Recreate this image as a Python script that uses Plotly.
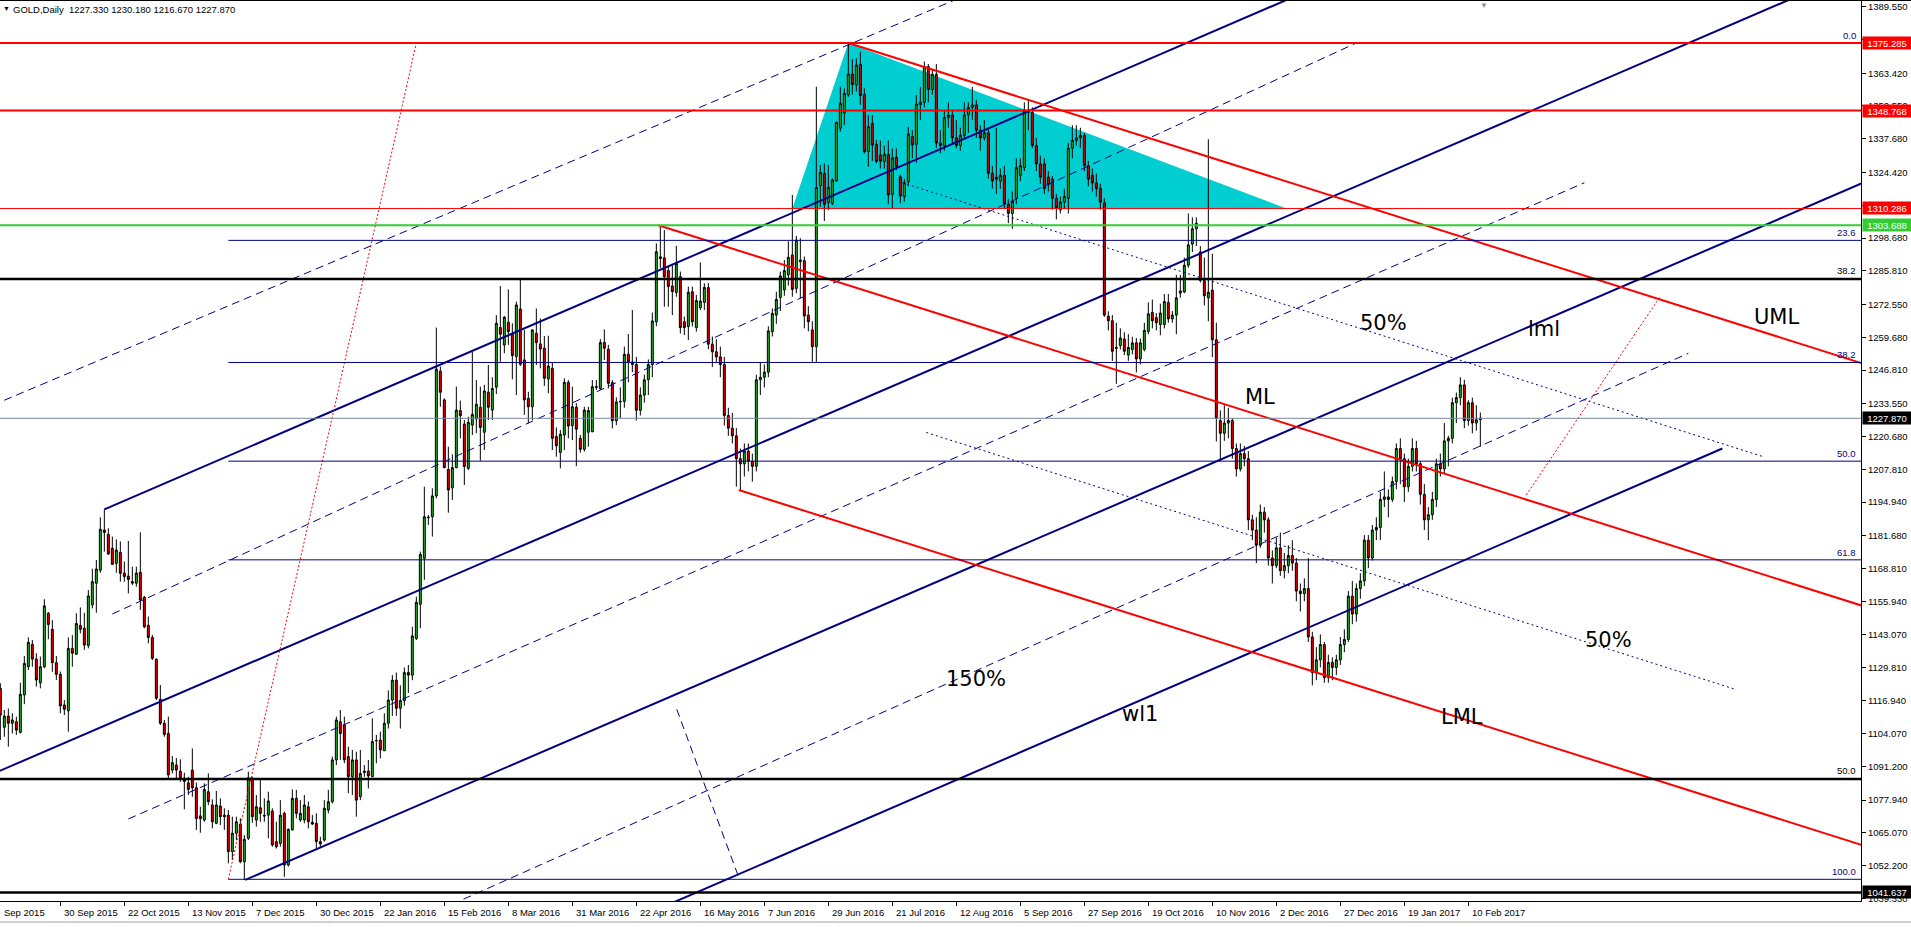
import plotly.graph_objects as go

# ---------------- DATA ----------------
bar_open = [
1121.8,1106.5,1110.9,1108.1,1108.7,1104.5,1119.2,1130.3,1139.1,1133.3,
1124.0,1130.3,1151.3,1145.0,1131.9,1127.3,1115.3,1113.0,1137.5,1135.2,
1146.5,1145.4,1138.6,1154.6,1163.1,1168.2,1184.0,1182.3,1176.8,1170.9,
1175.2,1167.1,1165.9,1163.1,1163.1,1167.4,1157.6,1146.6,1141.8,1133.2,
1117.5,1108.1,1104.1,1089.7,1091.7,1089.3,1086.5,1084.7,1089.7,1082.8,
1071.7,1070.1,1081.2,1076.0,1068.8,1075.6,1072.0,1072.0,1057.7,1064.9,
1068.4,1053.7,1062.9,1086.5,1070.1,1074.9,1071.9,1072.0,1073.6,1061.6,
1060.9,1072.7,1052.4,1066.2,1078.6,1070.1,1070.1,1075.3,1069.2,1068.8,
1061.6,1062.2,1074.0,1077.3,1093.7,1108.7,1107.4,1095.0,1087.1,1093.7,
1079.3,1089.3,1089.3,1087.1,1101.2,1101.5,1097.3,1108.1,1117.2,1125.0,
1114.0,1117.0,1128.0,1127.0,1141.4,1154.8,1172.9,1188.8,1189.2,1197.4,
1246.4,1235.1,1207.8,1200.6,1208.5,1230.9,1225.6,1208.2,1225.2,1227.6,
1232.2,1222.4,1238.1,1231.1,1240.1,1263.5,1256.7,1265.6,1261.0,1252.1,
1270.8,1250.8,1235.7,1232.4,1261.3,1257.1,1255.4,1243.3,1247.5,1220.7,
1214.5,1221.3,1242.0,1225.0,1232.2,1220.0,1215.7,1222.4,1222.6,1240.0,
1239.6,1257.7,1255.0,1241.9,1226.9,1234.3,1234.5,1253.0,1250.0,1249.0,
1231.0,1237.0,1243.0,1249.0,1265.8,1291.3,1290.9,1285.9,1279.8,1277.3,
1283.5,1265.8,1263.9,1277.6,1263.5,1271.3,1273.4,1279.2,1257.0,1254.0,
1252.0,1249.0,1229.0,1224.0,1221.0,1212.0,1210.0,1215.0,1211.0,1209.0,
1243.0,1244.0,1246.0,1261.9,1268.4,1275.3,1278.3,1284.2,1292.0,1278.9,
1289.4,1289.8,1268.4,1262.6,1256.0,1319.2,1324.1,1312.6,1312.3,1321.1,
1341.8,1347.7,1354.9,1363.1,1358.8,1366.9,1355.1,1332.6,1343.7,1335.5,
1331.3,1328.7,1331.6,1315.9,1330.5,1322.7,1314.9,1320.8,1338.5,1335.5,
1351.0,1352.0,1366.0,1357.0,1363.0,1336.0,1335.0,1346.0,1347.0,1338.0,
1335.0,1339.0,1347.0,1350.0,1351.0,1341.0,1338.0,1340.0,1324.1,1322.6,
1321.1,1323.3,1312.0,1308.3,1314.3,1323.3,1326.3,1349.0,1348.0,1335.0,
1327.8,1327.8,1322.6,1321.8,1314.3,1309.8,1312.8,1314.3,1334.0,1337.0,
1338.0,1339.0,1327.1,1323.3,1320.3,1318.1,1312.5,1268.0,1266.2,1255.7,
1256.4,1259.0,1252.7,1254.9,1257.5,1251.2,1254.9,1262.0,1269.5,1267.4,
1264.7,1264.7,1273.4,1266.9,1268.4,1277.0,1277.5,1288.0,1296.3,1302.3,
1293.2,1282.0,1275.2,1278.2,1258.7,1227.0,1222.0,1226.0,1227.0,1216.0,
1208.0,1214.0,1212.0,1188.0,1184.0,1178.0,1191.0,1188.0,1173.0,1170.0,
1177.0,1168.0,1170.0,1174.0,1171.0,1160.0,1159.0,1161.0,1142.0,1128.0,
1133.0,1139.0,1126.0,1132.0,1130.0,1133.0,1139.0,1141.0,1158.0,1151.0,
1161.0,1164.0,1180.0,1173.0,1184.0,1185.0,1196.0,1197.0,1196.0,1203.0,
1216.0,1212.0,1201.0,1209.0,1216.0,1210.0,1198.0,1188.0,1190.0,1196.0,
1210.0,1208.0,1219.0,1220.0,1234.0,1236.0,1241.0,1227.0,1234.0,1226.0,
1227.33]

bar_high = [
1123.8,1113.3,1113.9,1112.0,1110.7,1124.0,1134.5,1141.8,1140.8,1135.6,
1134.3,1156.8,1151.8,1148.6,1134.5,1128.4,1117.2,1141.8,1142.7,1151.3,
1153.6,1151.5,1160.4,1168.8,1172.2,1189.0,1192.1,1184.7,1181.4,1180.3,
1179.5,1171.6,1179.7,1169.6,1169.6,1183.1,1158.1,1150.0,1142.8,1133.6,
1123.1,1109.4,1110.7,1095.2,1094.4,1093.9,1088.7,1087.1,1098.2,1084.8,
1075.3,1084.5,1088.4,1078.2,1081.5,1078.6,1074.7,1074.0,1071.4,1071.4,
1070.8,1064.2,1089.1,1087.1,1079.9,1085.8,1078.6,1081.2,1074.7,1069.4,
1077.9,1073.4,1066.8,1082.1,1081.9,1077.9,1079.9,1077.3,1072.1,1072.7,
1063.5,1077.9,1081.9,1095.0,1110.7,1113.3,1110.7,1098.9,1097.6,1096.9,
1097.6,1091.7,1093.7,1110.0,1103.5,1104.8,1112.0,1121.0,1127.0,1128.0,
1123.0,1130.0,1131.0,1146.0,1157.8,1175.5,1201.0,1189.9,1200.4,1263.5,
1248.2,1235.7,1216.7,1213.7,1240.3,1234.8,1227.2,1228.5,1254.0,1242.9,
1240.3,1241.0,1248.8,1244.0,1268.4,1279.8,1268.1,1278.5,1265.2,1273.7,
1282.4,1262.6,1238.3,1262.8,1271.0,1267.1,1260.2,1260.3,1249.7,1224.3,
1223.3,1243.6,1242.9,1240.3,1233.8,1221.3,1232.4,1232.4,1242.9,1242.9,
1259.0,1262.8,1256.7,1242.9,1236.1,1240.0,1256.0,1261.0,1270.4,1252.0,
1240.0,1245.0,1251.0,1269.4,1296.6,1303.7,1301.8,1287.4,1288.1,1295.6,
1285.5,1267.8,1279.6,1279.6,1276.3,1289.1,1280.9,1281.0,1260.0,1259.0,
1256.0,1252.0,1232.0,1230.0,1224.0,1216.0,1218.0,1218.0,1214.0,1245.0,
1250.0,1249.0,1264.0,1271.0,1277.6,1285.5,1290.0,1297.4,1315.6,1299.5,
1298.6,1291.4,1271.9,1266.0,1358.1,1327.4,1328.0,1327.4,1322.1,1344.4,
1358.1,1357.5,1375.285,1369.0,1369.3,1372.0,1357.5,1347.0,1347.0,1337.2,
1337.0,1335.0,1337.0,1333.9,1333.9,1323.5,1322.0,1342.4,1341.0,1354.9,
1358.0,1368.0,1367.0,1365.0,1367.0,1341.0,1349.0,1352.0,1349.0,1345.0,
1342.0,1352.0,1352.0,1358.0,1353.0,1343.0,1345.0,1342.0,1327.0,1342.0,
1326.0,1327.0,1314.0,1317.0,1330.0,1330.0,1352.0,1353.0,1350.0,1338.0,
1331.0,1330.0,1325.0,1323.0,1316.0,1315.0,1318.0,1336.0,1343.0,1343.0,
1342.0,1340.0,1329.0,1326.0,1324.0,1320.0,1314.3,1269.9,1268.4,1265.4,
1263.2,1261.7,1260.9,1259.9,1259.4,1259.2,1265.4,1273.4,1274.5,1269.2,
1272.9,1276.7,1276.7,1270.0,1284.2,1284.2,1291.0,1308.3,1306.8,1306.8,
1295.5,1291.0,1337.5,1292.5,1265.4,1231.0,1233.0,1232.0,1228.0,1218.0,
1218.0,1217.0,1215.0,1190.0,1189.0,1194.0,1193.0,1189.0,1176.0,1181.0,
1183.0,1175.0,1178.0,1180.0,1173.0,1163.0,1165.0,1173.0,1144.0,1138.0,
1143.0,1140.0,1135.0,1134.0,1135.0,1142.0,1145.0,1160.0,1164.0,1163.0,
1167.0,1182.0,1182.0,1186.0,1189.0,1199.0,1207.0,1200.0,1205.0,1218.0,
1220.0,1214.0,1212.0,1220.0,1219.0,1211.0,1202.0,1193.0,1199.0,1212.0,
1214.0,1226.0,1221.0,1236.0,1238.0,1244.0,1243.0,1235.0,1236.0,1233.0,
1230.18]

bar_low = [
1101.5,1102.8,1098.9,1104.1,1103.5,1104.1,1115.6,1129.0,1130.3,1122.5,
1121.8,1129.7,1141.1,1128.3,1125.1,1112.0,1111.3,1104.8,1130.3,1135.0,
1143.4,1136.9,1137.5,1153.2,1151.5,1167.2,1175.5,1174.2,1170.2,1167.2,
1163.7,1163.7,1159.1,1162.4,1161.7,1152.6,1145.4,1139.5,1132.9,1117.2,
1107.4,1102.8,1085.8,1088.4,1085.8,1085.1,1074.3,1079.9,1079.2,1066.2,
1065.1,1069.4,1075.9,1066.8,1068.5,1068.1,1066.2,1053.1,1054.4,1062.2,
1053.1,1046.5,1062.2,1069.0,1067.5,1069.4,1069.4,1062.9,1059.6,1058.9,
1059.6,1047.8,1051.8,1066.0,1070.7,1069.4,1068.8,1066.8,1068.1,1058.9,
1059.6,1061.6,1072.7,1076.6,1091.7,1093.7,1092.4,1080.6,1079.9,1071.4,
1077.9,1087.1,1082.5,1087.1,1092.4,1094.3,1097.3,1106.0,1111.0,1111.0,
1106.0,1115.0,1120.0,1125.0,1140.8,1145.4,1164.4,1186.0,1181.4,1196.4,
1232.4,1208.2,1190.8,1195.8,1208.2,1220.0,1201.7,1207.6,1221.3,1222.0,
1211.2,1215.4,1227.2,1227.2,1237.4,1250.1,1253.4,1256.7,1243.2,1237.0,
1248.4,1229.2,1225.9,1227.2,1248.8,1247.5,1240.6,1237.7,1215.4,1212.8,
1208.2,1215.4,1220.0,1219.3,1209.1,1214.4,1214.8,1216.7,1222.4,1239.0,
1239.0,1250.8,1239.6,1223.9,1225.2,1228.0,1232.0,1242.0,1246.0,1227.0,
1229.0,1234.0,1237.0,1244.0,1264.0,1286.8,1271.7,1271.7,1268.4,1275.6,
1261.2,1260.6,1258.6,1263.9,1261.9,1270.4,1270.4,1255.0,1248.0,1250.0,
1244.0,1225.0,1221.0,1218.0,1201.0,1199.7,1205.0,1207.0,1203.0,1207.0,
1237.0,1240.0,1244.0,1260.0,1265.0,1270.0,1276.0,1280.0,1275.6,1277.0,
1275.0,1263.2,1262.0,1250.0,1250.0,1311.0,1305.4,1309.7,1311.6,1320.9,
1340.5,1343.1,1354.2,1355.0,1356.2,1351.0,1331.9,1326.7,1329.0,1328.0,
1326.0,1326.0,1312.0,1310.4,1325.4,1312.3,1313.0,1319.0,1330.0,1328.3,
1345.0,1350.0,1352.0,1355.0,1334.0,1332.0,1333.0,1342.0,1336.0,1334.0,
1333.0,1338.0,1340.0,1345.0,1338.0,1333.0,1337.0,1322.0,1318.1,1316.0,
1318.0,1310.5,1304.5,1302.3,1312.0,1321.0,1325.0,1341.0,1334.0,1325.0,
1320.0,1316.0,1317.0,1309.8,1306.0,1308.3,1310.0,1308.3,1330.0,1335.0,
1334.0,1325.0,1319.0,1317.0,1315.0,1309.8,1267.7,1262.4,1250.4,1241.4,
1254.9,1252.7,1250.4,1253.0,1245.9,1249.0,1254.2,1260.9,1263.2,1262.4,
1260.5,1263.2,1265.4,1265.4,1260.9,1275.2,1277.0,1287.0,1293.2,1295.5,
1281.2,1272.2,1266.0,1251.9,1218.8,1211.0,1219.0,1220.0,1212.0,1205.0,
1207.0,1209.0,1184.0,1180.0,1171.0,1177.0,1183.0,1170.0,1163.0,1169.0,
1166.0,1165.0,1167.0,1168.0,1156.0,1152.0,1156.0,1140.0,1123.0,1125.0,
1130.0,1124.0,1124.0,1125.0,1127.0,1131.0,1136.0,1140.0,1147.0,1148.0,
1157.0,1162.0,1169.0,1172.0,1180.0,1180.0,1193.0,1189.0,1195.0,1200.0,
1202.0,1195.0,1199.0,1207.0,1207.0,1194.0,1184.0,1180.0,1188.0,1193.0,
1205.0,1206.0,1209.0,1218.0,1226.0,1233.0,1224.0,1225.0,1222.0,1223.0,
1216.67]

bar_close = [
1111.3,1110.9,1108.1,1109.4,1105.4,1119.5,1131.6,1139.9,1133.3,1125.1,
1130.3,1154.2,1146.9,1131.9,1127.3,1114.9,1113.6,1137.5,1135.6,1147.3,
1145.0,1138.8,1158.1,1163.7,1168.7,1184.3,1183.0,1174.6,1170.5,1176.1,
1167.0,1165.7,1164.6,1163.7,1167.1,1156.5,1146.0,1141.8,1133.6,1117.9,
1108.1,1103.7,1087.8,1092.6,1089.7,1086.5,1085.2,1082.1,1082.8,1070.7,
1070.6,1082.1,1077.3,1069.4,1076.0,1071.4,1071.4,1057.7,1064.9,1069.4,
1053.7,1062.5,1086.7,1071.4,1075.3,1072.7,1071.7,1077.6,1060.3,1059.6,
1072.0,1052.4,1066.4,1078.6,1072.7,1072.7,1076.0,1069.4,1068.5,1061.6,
1060.7,1074.7,1077.3,1093.7,1109.4,1104.1,1093.7,1087.1,1093.7,1077.9,
1088.4,1088.8,1087.4,1100.9,1101.3,1097.6,1108.1,1117.2,1125.0,1114.0,
1117.0,1128.0,1127.0,1142.4,1155.6,1174.4,1189.2,1189.0,1197.4,1247.2,
1238.1,1208.5,1199.7,1208.5,1231.1,1228.9,1208.9,1226.3,1229.4,1233.4,
1224.3,1238.6,1232.2,1239.6,1265.2,1260.9,1267.6,1261.9,1252.5,1272.4,
1249.1,1235.1,1232.4,1262.6,1257.6,1255.1,1243.6,1248.4,1220.0,1217.1,
1221.6,1242.0,1224.8,1232.4,1223.6,1215.7,1231.1,1230.9,1240.3,1240.3,
1257.6,1255.4,1241.6,1226.9,1234.3,1234.5,1253.0,1250.0,1249.0,1231.0,
1237.0,1243.0,1249.0,1266.1,1293.3,1290.6,1283.5,1279.6,1277.6,1288.7,
1263.5,1263.5,1277.4,1265.8,1274.1,1273.9,1279.3,1257.0,1254.0,1252.0,
1249.0,1229.0,1224.0,1221.0,1212.0,1210.0,1215.0,1211.0,1209.0,1243.0,
1244.0,1246.0,1262.2,1269.1,1274.6,1283.8,1285.9,1291.1,1278.5,1297.9,
1290.0,1268.1,1265.8,1256.0,1318.5,1324.5,1311.9,1318.6,1321.5,1344.1,
1351.6,1355.5,1363.1,1359.0,1366.6,1354.6,1332.6,1342.4,1335.2,1328.7,
1328.9,1331.6,1315.6,1330.2,1326.7,1315.2,1320.4,1339.5,1335.2,1351.3,
1352.0,1366.0,1357.0,1363.0,1336.0,1335.0,1346.0,1347.0,1338.0,1335.0,
1339.0,1347.0,1350.0,1351.0,1341.0,1338.0,1340.0,1324.1,1321.1,1321.8,
1323.3,1312.0,1308.3,1313.1,1326.3,1327.1,1349.0,1348.0,1335.0,1327.8,
1322.6,1318.1,1319.6,1314.3,1310.5,1312.8,1315.0,1334.0,1337.0,1338.0,
1339.0,1327.1,1321.8,1320.3,1318.1,1312.8,1268.4,1266.2,1254.2,1255.4,
1259.4,1254.2,1255.7,1257.5,1251.2,1257.5,1262.4,1268.9,1266.2,1265.4,
1269.2,1273.7,1266.9,1268.4,1275.2,1277.9,1288.0,1296.0,1302.3,1304.5,
1282.0,1276.0,1277.4,1258.7,1227.9,1222.0,1226.0,1227.0,1216.0,1208.0,
1214.0,1212.0,1188.0,1184.0,1178.0,1191.0,1188.0,1173.0,1170.0,1177.0,
1168.0,1170.0,1174.0,1171.0,1160.0,1159.0,1161.0,1142.0,1128.0,1133.0,
1139.0,1126.0,1132.0,1130.0,1133.0,1139.0,1141.0,1158.0,1151.0,1161.0,
1164.0,1180.0,1173.0,1184.0,1185.0,1196.0,1197.0,1196.0,1203.0,1216.0,
1212.0,1201.0,1209.0,1216.0,1210.0,1198.0,1188.0,1190.0,1196.0,1210.0,
1208.0,1219.0,1220.0,1234.0,1236.0,1241.0,1227.0,1234.0,1226.0,1227.3,
1227.87]

assert len(bar_open) == len(bar_high) == len(bar_low) == len(bar_close)
bar_index = list(range(len(bar_open)))

# time axis labels (bar index of each label)
date_tick_bars = [15, 31, 47, 63, 79, 95, 111, 127, 143, 159, 175, 191, 207,
                  223, 239, 255, 271, 287, 303, 319, 335, 351, 367]
date_tick_text = ["30 Sep 2015", "22 Oct 2015", "13 Nov 2015", "7 Dec 2015",
                  "30 Dec 2015", "22 Jan 2016", "15 Feb 2016", "8 Mar 2016",
                  "31 Mar 2016", "22 Apr 2016", "16 May 2016", "7 Jun 2016",
                  "29 Jun 2016", "21 Jul 2016", "12 Aug 2016", "5 Sep 2016",
                  "27 Sep 2016", "19 Oct 2016", "10 Nov 2016", "2 Dec 2016",
                  "27 Dec 2016", "19 Jan 2017", "10 Feb 2017"]

price_ticks = [1389.55, 1376.68, 1363.42, 1350.55, 1337.68, 1324.42, 1311.55,
               1298.68, 1285.81, 1272.55, 1259.68, 1246.81, 1233.55, 1220.68,
               1207.81, 1194.94, 1181.68, 1168.81, 1155.94, 1143.07, 1129.81,
               1116.94, 1104.07, 1091.20, 1077.94, 1065.07, 1052.20, 1039.33]

# horizontal levels
red_levels = [1375.285, 1348.768, 1310.286]
red_level_widths = [2, 2, 1]
green_level = 1303.688
black_levels = [1282.6, 1086.2, 1041.637]
black_level_tags = ["38.2", "50.0", ""]
current_price = 1227.87

# navy fibonacci retracement (start bar 57)
fib_start_bar = 57
fib_levels = [1375.285, 1297.76, 1249.8, 1211.04, 1172.28, 1046.8]
fib_tags = ["0.0", "23.6", "38.2", "50.0", "61.8", "100.0"]

# axis price boxes
box_prices = [1375.285, 1348.768, 1310.286, 1303.688, 1227.870, 1041.637]
box_colors = ["#FF0000", "#FF0000", "#FF0000", "#32CD32", "#000000", "#000000"]

# drawn objects: (bar index, price) anchor pairs
triangle_bars = [198, 212, 321.5]
triangle_prices = [1310.286, 1375.285, 1310.286]

blue_solid = {
    "upper":  ([26, 470], [1192.1, 1492.7]),
    "median": ([-5, 470], [1086.1, 1407.7]),
    "lower":  ([61.25, 470], [1046.6, 1323.3]),
    "wl1":    ([150, 430.5], [1025.3, 1216.0]),
}
blue_dashed = {
    "d1": ([-5, 240], [1231.0, 1393.1]),
    "d2": ([28, 339], [1151.0, 1375.285]),
    "d3": ([32, 396], [1070.5, 1320.4]),
    "d4": ([115.8, 422], [1039.0, 1253.4]),
    "perp": ([169.1, 184.6], [1113.6, 1047.6]),
}
blue_dotted = {
    "half_up": ([225.5, 440.9], [1320.4, 1212.7]),
    "half_dn": ([231.5, 434], [1222.3, 1121.3]),
}
red_solid = {
    "ML":  ([164.5, 470], [1303.7, 1152.0]),
    "UML": ([212, 470], [1375.285, 1247.2]),
    "LML": ([184.6, 470], [1199.7, 1058.0]),
}
red_dotted = {
    "fib_diag": ([57, 104], [1046.8, 1375.285]),
    "short":    ([381.5, 415], [1197.8, 1275.8]),
}

text_labels = ["50%", "lml", "UML", "ML", "50%", "150%", "wl1", "LML"]
text_bars = [345.8, 386, 444, 314.8, 402, 243.8, 285, 365.5]
text_prices = [1265.3, 1262.9, 1267.7, 1236.2, 1140.8, 1125.5, 1111.7, 1110.7]

header_text = "GOLD,Daily  1227.330 1230.180 1216.670 1227.870"

# ---------------- FIGURE ----------------
NAVY = "#000080"
FONT = "Liberation Sans"
W, H = 1911, 927
ML_, MR, MT, MB = 0, 50, 0, 26
PX_PER_BAR = 4.0
PX_PER_USD = 2.546
plot_w = W - ML_ - MR
plot_h = H - MT - MB
x0 = -0.083
y_top = 1392.17

fig = go.Figure()

fig.add_trace(go.Candlestick(
    x=bar_index, open=bar_open, high=bar_high, low=bar_low, close=bar_close,
    increasing=dict(line=dict(color="black", width=1), fillcolor="#2DB52D"),
    decreasing=dict(line=dict(color="black", width=1), fillcolor="#F00000"),
    whiskerwidth=0, hoverinfo="skip"))

def add_line(xs, ys, color, width, dash="solid"):
    fig.add_trace(go.Scatter(x=xs, y=ys, mode="lines",
                             line=dict(color=color, width=width, dash=dash),
                             hoverinfo="skip"))

for xs, ys in blue_solid.values():
    add_line(xs, ys, NAVY, 2)
for xs, ys in blue_dashed.values():
    add_line(xs, ys, NAVY, 1, "8px,5px")
for xs, ys in blue_dotted.values():
    add_line(xs, ys, NAVY, 1, "2px,3px")
for xs, ys in red_solid.values():
    add_line(xs, ys, "#FF0000", 2)
for xs, ys in red_dotted.values():
    add_line(xs, ys, "#FF0000", 1, "2px,2px")

shapes = []
# cyan triangle drawn as background object (below the candles)
tri_path = "M " + " L ".join(f"{b},{p}" for b, p in zip(triangle_bars, triangle_prices)) + " Z"
shapes.append(dict(type="path", xref="x", yref="y", path=tri_path,
                   fillcolor="#00CED1", line=dict(width=0), layer="below"))

x_end = x0 + plot_w / PX_PER_BAR
for lv in fib_levels:
    shapes.append(dict(type="line", xref="x", yref="y", x0=fib_start_bar, x1=x_end,
                       y0=lv, y1=lv, line=dict(color=NAVY, width=1), layer="above"))
for lv, wdt in zip(red_levels, red_level_widths):
    shapes.append(dict(type="line", xref="paper", yref="y", x0=0, x1=1, y0=lv, y1=lv,
                       line=dict(color="#FF0000", width=wdt), layer="above"))
shapes.append(dict(type="line", xref="paper", yref="y", x0=0, x1=1, y0=green_level,
                   y1=green_level, line=dict(color="#32CD32", width=2), layer="above"))
for lv in black_levels:
    shapes.append(dict(type="line", xref="paper", yref="y", x0=0, x1=1, y0=lv, y1=lv,
                       line=dict(color="black", width=2.5), layer="above"))
shapes.append(dict(type="line", xref="paper", yref="y", x0=0, x1=1, y0=current_price,
                   y1=current_price, line=dict(color="#778899", width=1), layer="above"))
shapes.append(dict(type="line", xref="paper", yref="paper", x0=0, x1=W / plot_w,
                   y0=1, y1=1, line=dict(color="black", width=2)))
shapes.append(dict(type="line", xref="paper", yref="paper", x0=0, x1=W / plot_w,
                   y0=-21 / plot_h, y1=-21 / plot_h, line=dict(color="#A0A0A0", width=1)))

ann = []
lab_x = (plot_w - 3) / plot_w
for lv, tag in zip(fib_levels, fib_tags):
    ann.append(dict(xref="paper", yref="y", x=lab_x, y=lv, text=tag, showarrow=False,
                    xanchor="right", yanchor="bottom", font=dict(family=FONT, size=9.5, color=NAVY)))
for lv, tag in zip(black_levels, black_level_tags):
    if tag:
        ann.append(dict(xref="paper", yref="y", x=lab_x, y=lv, text=tag, showarrow=False,
                        xanchor="right", yanchor="bottom", yshift=1,
                        font=dict(family=FONT, size=9.5, color="black")))
for p, c in zip(box_prices, box_colors):
    ann.append(dict(xref="paper", yref="y", x=1, y=p, text=f"{p:.3f}", showarrow=False,
                    xanchor="left", yanchor="middle", xshift=1, width=48, height=12,
                    align="center", bgcolor=c, borderpad=0,
                    font=dict(family=FONT, size=9.5, color="white")))
for t, xb, pr in zip(text_labels, text_bars, text_prices):
    ann.append(dict(xref="x", yref="y", x=xb, y=pr, text=t, showarrow=False,
                    xanchor="center", yanchor="middle",
                    font=dict(family="DejaVu Sans", size=21, color="black")))
for xb, t in zip(date_tick_bars, date_tick_text):
    ann.append(dict(xref="x", yref="paper", x=xb, y=0, text=t, showarrow=False,
                    xanchor="left", yanchor="top", xshift=2, yshift=-4,
                    font=dict(family=FONT, size=9.5, color="black")))
ann.append(dict(xref="paper", yref="paper", x=2 / plot_w, y=0, text="Sep 2015",
                showarrow=False, xanchor="left", yanchor="top", yshift=-4,
                font=dict(family=FONT, size=9.5, color="black")))
ann.append(dict(xref="paper", yref="paper", x=1 / plot_w, y=1, text="▼", showarrow=False,
                xanchor="left", yanchor="top", yshift=-3, font=dict(family=FONT, size=7, color="black")))
ann.append(dict(xref="paper", yref="paper", x=11 / plot_w, y=1, text=header_text,
                showarrow=False, xanchor="left", yanchor="top", yshift=-2,
                font=dict(family=FONT, size=9.5, color="black")))
ann.append(dict(xref="paper", yref="paper", x=1484 / plot_w, y=1, text="▼", showarrow=False,
                xanchor="center", yanchor="top", yshift=1,
                font=dict(family=FONT, size=8, color="#909090")))

fig.update_layout(
    width=W, height=H, margin=dict(l=ML_, r=MR, t=MT, b=MB, pad=0),
    paper_bgcolor="white", plot_bgcolor="white", showlegend=False,
    hovermode=False, shapes=shapes, annotations=ann,
    font=dict(family=FONT, size=9.5, color="black"),
    xaxis=dict(range=[x0, x_end], showgrid=False, zeroline=False, showline=True,
               linecolor="black", linewidth=1, ticks="outside", ticklen=4,
               tickcolor="black", tickvals=date_tick_bars, showticklabels=False,
               rangeslider=dict(visible=False), fixedrange=True),
    yaxis=dict(range=[y_top - plot_h / PX_PER_USD, y_top], side="right",
               showgrid=False, zeroline=False, showline=True, linecolor="black",
               linewidth=1, ticks="outside", ticklen=4, tickcolor="black",
               tickvals=price_ticks, ticktext=[f"{v:.3f}" for v in price_ticks],
               tickfont=dict(family=FONT, size=9.5, color="black"), fixedrange=True),
)

fig.write_html("out.html", include_plotlyjs=True, full_html=True,
               config={"displayModeBar": False, "staticPlot": True},
               post_script="document.body.style.margin='0';document.body.style.overflow='hidden';")
